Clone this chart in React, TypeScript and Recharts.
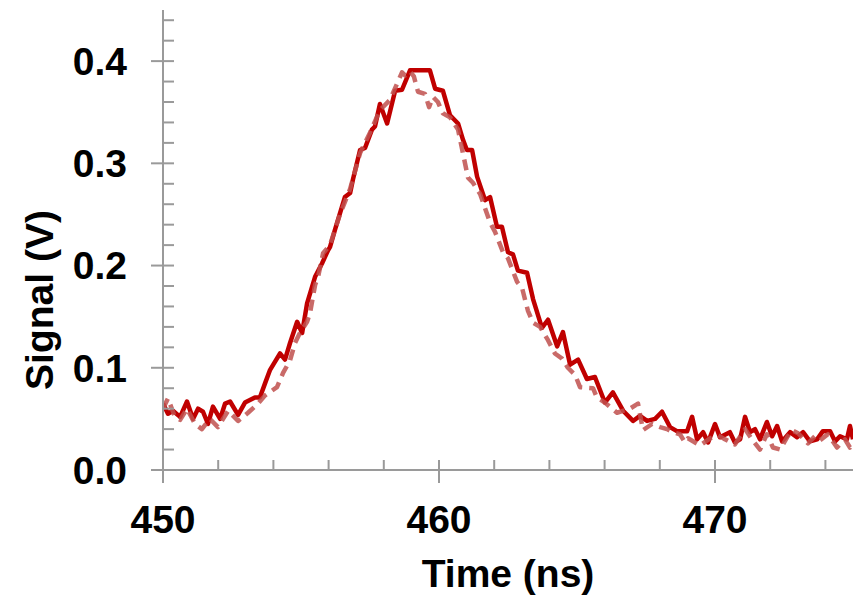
import { Line, LineChart, XAxis, YAxis } from "recharts";

// measured trace (solid)
const measTime = [
  450.0, 450.18, 450.36, 450.62, 450.87, 451.09, 451.27, 451.45, 451.63, 451.81, 452.07, 452.25, 452.43, 452.72, 452.97,
  453.33, 453.51, 453.7, 453.88, 454.06, 454.24, 454.42, 454.6, 454.86, 455.04, 455.22, 455.51, 455.76, 455.98, 456.05,
  456.23, 456.59, 456.78, 456.88, 457.14, 457.32, 457.57, 457.68, 457.86, 458.12, 458.41, 458.66, 458.95, 459.67, 459.86,
  460.14, 460.4, 460.69, 460.87, 461.01, 461.2, 461.38, 461.67, 461.85, 462.1, 462.28, 462.5, 462.68, 462.86, 463.19,
  463.41, 463.73, 463.95, 464.28, 464.49, 464.75, 465.04, 465.36, 465.65, 466.01, 466.3, 466.67, 467.03, 467.28, 467.54,
  467.83, 468.08, 468.37, 468.62, 468.99, 469.17, 469.35, 469.57, 469.75, 470.0, 470.18, 470.54, 470.72, 470.91, 471.09,
  471.27, 471.45, 471.63, 471.88, 472.07, 472.25, 472.43, 472.72, 472.97, 473.19, 473.44, 473.7, 473.91, 474.17, 474.35,
  474.53, 474.78, 474.89, 475.0,
];
const measSignal = [
  0.065, 0.055, 0.058, 0.052, 0.067, 0.05, 0.06, 0.057, 0.045, 0.062, 0.05, 0.065, 0.067, 0.054, 0.066,
  0.071, 0.071, 0.085, 0.098, 0.106, 0.114, 0.108, 0.124, 0.145, 0.134, 0.163, 0.189, 0.202, 0.215, 0.218,
  0.235, 0.267, 0.271, 0.284, 0.313, 0.315, 0.333, 0.336, 0.358, 0.339, 0.371, 0.372, 0.391, 0.391, 0.373,
  0.371, 0.347, 0.339, 0.323, 0.313, 0.313, 0.287, 0.264, 0.267, 0.238, 0.238, 0.213, 0.211, 0.195, 0.193,
  0.167, 0.139, 0.147, 0.121, 0.135, 0.103, 0.108, 0.089, 0.091, 0.066, 0.076, 0.058, 0.048, 0.053, 0.048,
  0.05, 0.057, 0.042, 0.038, 0.038, 0.052, 0.03, 0.037, 0.027, 0.045, 0.032, 0.037, 0.027, 0.03, 0.052,
  0.037, 0.04, 0.03, 0.047, 0.033, 0.043, 0.028, 0.037, 0.032, 0.037, 0.028, 0.03, 0.038, 0.038, 0.028,
  0.033, 0.03, 0.043, 0.03,
];

// simulated trace (dashed)
const simTime = [
  450.0, 450.18, 450.43, 450.62, 450.87, 451.16, 451.41, 451.7, 451.99, 452.36, 452.72, 453.08, 453.41, 453.7, 454.13,
  454.35, 454.6, 454.78, 454.96, 455.22, 455.33, 455.51, 455.62, 455.8, 456.05, 456.41, 456.78, 457.14, 457.5, 457.86,
  458.22, 458.66, 458.77, 458.95, 459.09, 459.24, 459.49, 459.64, 459.78, 459.96, 460.14, 460.4, 460.69, 461.05, 461.23,
  461.49, 461.85, 462.03, 462.32, 462.5, 462.83, 463.01, 463.22, 463.41, 463.66, 463.95, 464.2, 464.46, 464.67, 464.93,
  465.11, 465.58, 465.72, 466.01, 466.45, 466.92, 467.21, 467.39, 467.72, 468.01, 468.26, 468.48, 468.73, 468.91, 469.02,
  469.46, 469.82, 470.11, 470.36, 470.72, 471.09, 471.34, 471.63, 471.88, 472.1, 472.36, 472.61, 472.79, 473.01, 473.37,
  473.62, 473.8, 474.09, 474.42, 474.71, 474.89, 475.0,
];
const simSignal = [
  0.06, 0.07, 0.052, 0.049, 0.06, 0.045, 0.04, 0.05, 0.042, 0.058, 0.048, 0.056, 0.064, 0.073, 0.081,
  0.095, 0.107, 0.124, 0.134, 0.145, 0.154, 0.181, 0.189, 0.212, 0.22, 0.25, 0.275, 0.31, 0.33, 0.352,
  0.362, 0.389, 0.386, 0.39, 0.385, 0.37, 0.368, 0.355, 0.365, 0.36, 0.349, 0.345, 0.333, 0.286, 0.281,
  0.27, 0.242, 0.233, 0.213, 0.207, 0.184, 0.178, 0.156, 0.144, 0.14, 0.127, 0.114, 0.109, 0.1, 0.093,
  0.081, 0.08, 0.071, 0.066, 0.056, 0.06, 0.065, 0.039, 0.045, 0.042, 0.04, 0.037, 0.035, 0.027, 0.031,
  0.024, 0.031, 0.034, 0.03, 0.025, 0.04, 0.03, 0.02, 0.035, 0.022, 0.02, 0.032, 0.039, 0.036, 0.026,
  0.033, 0.029, 0.035, 0.022, 0.03, 0.022, 0.028,
];

const xMajor = [450, 460, 470];
const xMinor = [450, 452, 454, 456, 458, 460, 462, 464, 466, 468, 470, 472, 474];
const yMajor = [0, 0.1, 0.2, 0.3, 0.4];
const yMinor = [
  0, 0.02, 0.04, 0.06, 0.08, 0.1, 0.12, 0.14, 0.16, 0.18, 0.2, 0.22, 0.24, 0.26, 0.28, 0.3, 0.32, 0.34, 0.36, 0.38, 0.4,
  0.42, 0.44,
];

const measData = measTime.map((t, i) => ({ t, v: measSignal[i] }));
const simData = simTime.map((t, i) => ({ t, v: simSignal[i] }));

const FONT = "'Liberation Sans', Arial, sans-serif";
const AXIS = "#9a9a9a";
const tickStyle = { fill: "#000", fontSize: 39, fontWeight: 700, fontFamily: FONT };
const noLabel = () => <g />;

export default function App() {
  return (
    <div style={{ position: "absolute", left: 0, top: 0, background: "#fff" }}>
      <LineChart width={862} height={595} margin={{ top: 10, right: 9, left: 0, bottom: 0 }}>
        <XAxis
          dataKey="t"
          type="number"
          domain={[450, 475]}
          allowDataOverflow
          ticks={xMajor}
          height={125}
          tickSize={13}
          tickMargin={22}
          stroke={AXIS}
          strokeWidth={2}
          tick={tickStyle}
        />
        <XAxis
          xAxisId="minor"
          dataKey="t"
          type="number"
          domain={[450, 475]}
          allowDataOverflow
          ticks={xMinor}
          interval={0}
          mirror
          height={10}
          tickSize={10}
          axisLine={false}
          tick={noLabel}
          stroke={AXIS}
          strokeWidth={2}
        />
        <YAxis
          type="number"
          domain={[0, 0.45]}
          allowDataOverflow
          ticks={yMajor}
          width={163}
          tickSize={12}
          tickMargin={24}
          tickFormatter={(v: number) => v.toFixed(1)}
          stroke={AXIS}
          strokeWidth={2}
          tick={tickStyle}
        />
        <YAxis
          yAxisId="minor"
          type="number"
          domain={[0, 0.45]}
          allowDataOverflow
          ticks={yMinor}
          interval={0}
          mirror
          width={11}
          tickSize={11}
          axisLine={false}
          tick={noLabel}
          stroke={AXIS}
          strokeWidth={2}
        />
        <Line
          data={measData}
          dataKey="v"
          type="linear"
          stroke="#c00000"
          strokeWidth={4.5}
          strokeLinejoin="round"
          dot={false}
          isAnimationActive={false}
        />
        <Line
          data={simData}
          dataKey="v"
          type="linear"
          stroke="#c0504d"
          strokeOpacity={0.85}
          strokeWidth={4.5}
          strokeLinejoin="round"
          strokeDasharray="11 7"
          dot={false}
          isAnimationActive={false}
        />
        <text x={508} y={587} textAnchor="middle" fontSize={39} fontWeight={700} fontFamily={FONT} fill="#000">
          Time (ns)
        </text>
        <text
          x={53}
          y={300}
          textAnchor="middle"
          transform="rotate(-90 53 300)"
          fontSize={39}
          fontWeight={700}
          fontFamily={FONT}
          fill="#000"
        >
          Signal (V)
        </text>
      </LineChart>
    </div>
  );
}
